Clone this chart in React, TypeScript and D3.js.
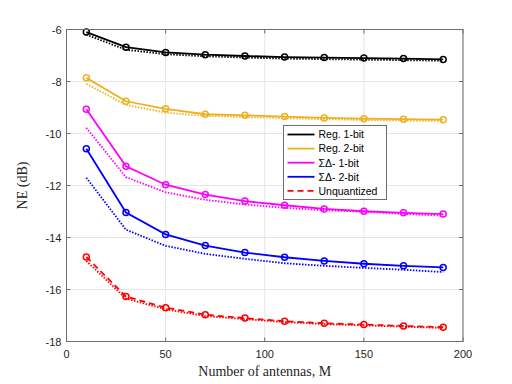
import React from "react";
import * as d3 from "d3";

const antennas = [10, 30, 50, 70, 90, 110, 130, 150, 170, 190];

const reg1Solid = [-6.1, -6.68, -6.88, -6.97, -7.02, -7.06, -7.08, -7.1, -7.12, -7.15];
const reg1Dotted = [-6.2, -6.78, -6.95, -7.03, -7.08, -7.12, -7.14, -7.16, -7.18, -7.2];
const reg2Solid = [-7.86, -8.76, -9.05, -9.26, -9.3, -9.35, -9.4, -9.43, -9.45, -9.47];
const reg2Dotted = [-8.09, -8.9, -9.2, -9.32, -9.37, -9.41, -9.45, -9.48, -9.5, -9.52];
const sd1Solid = [-9.07, -11.26, -11.97, -12.35, -12.6, -12.76, -12.9, -12.99, -13.05, -13.1];
const sd1Dotted = [-9.78, -11.68, -12.26, -12.55, -12.73, -12.86, -12.95, -13.01, -13.09, -13.16];
const sd2Solid = [-10.59, -13.04, -13.88, -14.31, -14.58, -14.76, -14.9, -15.01, -15.09, -15.15];
const sd2Dotted = [-11.7, -13.7, -14.32, -14.63, -14.82, -14.99, -15.09, -15.17, -15.24, -15.33];
const unqDashed = [-14.75, -16.27, -16.7, -16.97, -17.1, -17.22, -17.3, -17.35, -17.4, -17.45];
const unqDotted = [-14.9, -16.35, -16.76, -17.02, -17.14, -17.25, -17.33, -17.38, -17.43, -17.48];

const xTicks = [0, 50, 100, 150, 200];
const yTicks = [-6, -8, -10, -12, -14, -16, -18];

const legendLabels = ["Reg. 1-bit", "Reg. 2-bit", "ΣΔ- 1-bit", "ΣΔ- 2-bit", "Unquantized"];

const series = [
  { label: legendLabels[0], color: "#000000", solid: reg1Solid, dotted: reg1Dotted, dash: null as string | null },
  { label: legendLabels[1], color: "#EDB120", solid: reg2Solid, dotted: reg2Dotted, dash: null },
  { label: legendLabels[2], color: "#FF00FF", solid: sd1Solid, dotted: sd1Dotted, dash: null },
  { label: legendLabels[3], color: "#0000FF", solid: sd2Solid, dotted: sd2Dotted, dash: null },
  { label: legendLabels[4], color: "#FF0000", solid: unqDashed, dotted: unqDotted, dash: "6,4" },
];

export default function App() {
  const W = 512, H = 384;
  const left = 66.5, right = 463, top = 29.5, bottom = 341.5;
  const x = d3.scaleLinear().domain([0, 200]).range([left, right]);
  const y = d3.scaleLinear().domain([-18, -6]).range([bottom, top]);
  const line = (vals: number[]) =>
    d3.line<number>().x((_, i) => x(antennas[i])).y((d) => y(d))(vals) || "";

  const font = "'Liberation Sans', Arial, Helvetica, sans-serif";
  const serif = "'Liberation Serif', 'Times New Roman', serif";
  const axisColor = "#6e6e6e";
  const textColor = "#262626";

  const lgX = 283.5, lgY = 125.5, lgW = 103, lgH = 74;
  const rowH = 14.1;

  return (
    <svg width={W} height={H} style={{ position: "absolute", left: 0, top: 0, background: "#fff" }}>
      <rect x={0} y={0} width={W} height={H} fill="#fff" />
      {/* grid */}
      {xTicks.map((t) => (
        <line key={"gx" + t} x1={x(t)} x2={x(t)} y1={top} y2={bottom} stroke="#e5e5e5" strokeWidth={1} />
      ))}
      {yTicks.map((t) => (
        <line key={"gy" + t} x1={left} x2={right} y1={y(t)} y2={y(t)} stroke="#e5e5e5" strokeWidth={1} />
      ))}
      {/* series */}
      {series.map((s) => (
        <g key={s.label}>
          <path d={line(s.dotted)} fill="none" stroke={s.color} strokeWidth={1.8} strokeDasharray="1.5,1.5" />
          <path d={line(s.solid)} fill="none" stroke={s.color} strokeWidth={1.8} strokeDasharray={s.dash || undefined} />
          {s.solid.map((v, i) => (
            <circle key={i} cx={x(antennas[i])} cy={y(v)} r={3} fill="none" stroke={s.color} strokeWidth={1.5} />
          ))}
        </g>
      ))}
      {/* axes box */}
      <rect x={left} y={top} width={right - left} height={bottom - top} fill="none" stroke={axisColor} strokeWidth={1} />
      {xTicks.map((t) => (
        <g key={"xt" + t}>
          <line x1={x(t)} x2={x(t)} y1={bottom} y2={bottom - 4} stroke={axisColor} />
          <line x1={x(t)} x2={x(t)} y1={top} y2={top + 4} stroke={axisColor} />
          <text x={x(t)} y={358} textAnchor="middle" fontFamily={font} fontSize={11} fill={textColor}>{t}</text>
        </g>
      ))}
      {yTicks.map((t) => (
        <g key={"yt" + t}>
          <line x1={left} x2={left + 4} y1={y(t)} y2={y(t)} stroke={axisColor} />
          <line x1={right} x2={right - 4} y1={y(t)} y2={y(t)} stroke={axisColor} />
          <text x={left - 5} y={y(t) + 4} textAnchor="end" fontFamily={font} fontSize={11} fill={textColor}>{t}</text>
        </g>
      ))}
      <text x={(left + right) / 2} y={376} textAnchor="middle" fontFamily={serif} fontSize={14} fill={textColor}>
        Number of antennas, M
      </text>
      <text transform={`translate(27,${(top + bottom) / 2}) rotate(-90)`} textAnchor="middle" fontFamily={serif} fontSize={14} fill={textColor}>
        NE (dB)
      </text>
      {/* legend */}
      <rect x={lgX} y={lgY} width={lgW} height={lgH} fill="#fff" stroke={axisColor} strokeWidth={1} />
      {series.map((s, i) => {
        const cy = lgY + 9 + i * rowH;
        return (
          <g key={"lg" + i}>
            <line x1={lgX + 4} x2={lgX + 31} y1={cy} y2={cy} stroke={s.color} strokeWidth={1.8} strokeDasharray={s.dash || undefined} />
            <text x={lgX + 35} y={cy + 3.8} fontFamily={font} fontSize={10.5} fill="#000">{s.label}</text>
          </g>
        );
      })}
    </svg>
  );
}
